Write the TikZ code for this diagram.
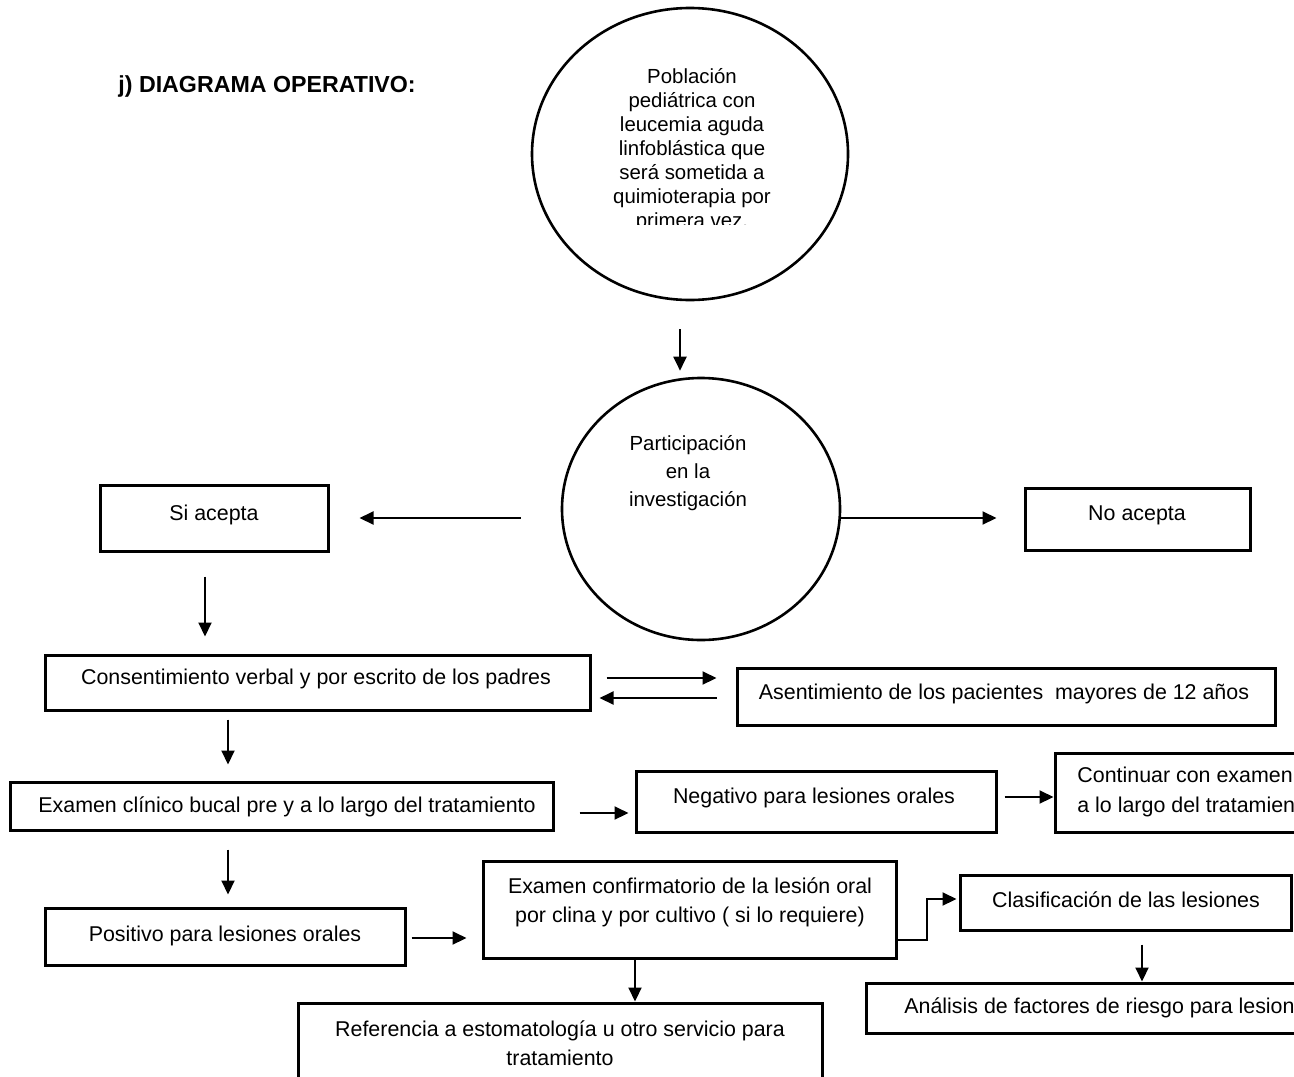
\documentclass[tikz,border=0pt]{standalone}
\usepackage{fontspec}
\setmainfont{Liberation Sans}
\usetikzlibrary{arrows.meta,shapes.geometric}
\begin{document}
\begin{tikzpicture}[x=0.5pt,y=-0.5pt,
  box/.style={draw,line width=1.5pt,rectangle,inner sep=0pt},
  oval/.style={draw,line width=1.3pt,ellipse,inner sep=0pt},
  txt/.style={font=\fontsize{10.7}{12.5}\selectfont,inner sep=0pt},
  ctxt/.style={font=\fontsize{10.2}{12}\selectfont,inner sep=0pt,align=center},
  txtw/.style={font=\fontsize{10.7}{14.5}\selectfont,inner sep=0pt,align=center},
  arr/.style={line width=1pt,-{Triangle[length=7pt,width=6.5pt]}}]
\useasboundingbox (0,0) rectangle (1294,1076);
\fill[white] (0,0) rectangle (1294,1076);
\clip (0,0) rectangle (1294,1076);

% title
\node[anchor=west,inner sep=0pt,font=\fontsize{11.6}{14}\selectfont\bfseries] (title) at (118,87) {j) DIAGRAMA OPERATIVO:};

% first circle
\node[oval,minimum width=158pt,minimum height=146pt] (c1) at (690,154) {};
\begin{scope}
\clip (530,40) rectangle (860,224);
\node[ctxt] (c1t) at (692,150) {Población\\pediátrica con\\leucemia aguda\\linfoblástica que\\será sometida a\\quimioterapia por\\primera vez.};
\end{scope}

% second circle
\node[oval,minimum width=139pt,minimum height=131pt] (c2) at (701,509) {};
\node[font=\fontsize{10.2}{14}\selectfont,inner sep=0pt,align=center] (c2t) at (688,473) {Participación\\en la\\investigación};

\draw[arr] ([shift={(-10,28)}]c1.south) -- ([shift={(-21,-6)}]c2.north);

% Si / No acepta
\node[box,minimum width=114pt,minimum height=33pt] (si) at (214,518) {};
\node[txt] (sit) at (214,515) {Si acepta};
\node[box,minimum width=112.5pt,minimum height=31pt] (no) at (1137.5,519) {};
\node[txt] (not) at (1137,515) {No acepta};
\draw[arr] ([shift={(-40,9)}]c2.west) -- ([shift={(30,0)}]si.east);
\draw[arr] ([shift={(-2,9)}]c2.east) -- ([shift={(-27,-1)}]no.west);

% consentimiento / asentimiento
\node[box,minimum width=272.5pt,minimum height=27.5pt] (cons) at (317.5,682.5) {};
\node[txt] (const) at (316,679) {Consentimiento verbal y por escrito de los padres};
\draw[arr] ([shift={(-9,24)}]si.south) -- ([shift={(-112.5,-17)}]cons.north);
\node[box,minimum width=269pt,minimum height=28.5pt] (ase) at (1006,696.5) {};
\node[txt] (aset) at (1004,694) {Asentimiento de los pacientes\ \ mayores de 12 años};
\draw[arr] ([shift={(15,-4.5)}]cons.east) -- ([shift={(-19,-18.5)}]ase.west);
\draw[arr] ([shift={(-19,1.5)}]ase.west) -- ([shift={(8,15.5)}]cons.east);

% examen clinico
\node[box,minimum width=271.5pt,minimum height=24pt] (exa) at (281.5,806) {};
\node[txt] (exat) at (287,807) {Examen clínico bucal pre y a lo largo del tratamiento};
\draw[arr] ([shift={(-89.5,8)}]cons.south) -- ([shift={(-53.5,-16)}]exa.north);

% negativo / continuar
\node[box,minimum width=180pt,minimum height=30.5pt] (neg) at (816,801.5) {};
\node[txt] (negt) at (814,798) {Negativo para lesiones orales};
\draw[arr] ([shift={(25,7)}]exa.east) -- ([shift={(-6,11.5)}]neg.west);
\node[box,minimum width=132.5pt,minimum height=39.5pt] (cont) at (1187.5,792.5) {};
\node[txt,anchor=west,align=left] (contt) at (1077,792) {Continuar con examen\\[2.4pt]a lo largo del tratamien};
\draw[arr] ([shift={(7,-4.5)}]neg.east) -- ([shift={(0,4.5)}]cont.west);

% positivo
\node[box,minimum width=180pt,minimum height=28.5pt] (pos) at (225,936.5) {};
\node[txt] (post) at (225,936) {Positivo para lesiones orales};
\draw[arr] ([shift={(-53.5,18)}]exa.south) -- ([shift={(3,-12)}]pos.north);

% confirmatorio
\node[box,minimum width=206.5pt,minimum height=48.5pt] (conf) at (689.5,909.5) {};
\node[txtw] (conft) at (690,902) {Examen confirmatorio de la lesión oral\\por clina y por cultivo ( si lo requiere)};
\draw[arr] ([shift={(5,1.5)}]pos.east) -- ([shift={(-15,28.5)}]conf.west);

% referencia
\node[box,minimum width=262pt,minimum height=48.5pt] (ref) at (560,1051.5) {};
\node[txtw] (reft) at (560,1043) {Referencia a estomatología u otro servicio para\\tratamiento};
\draw[arr] ([shift={(-54.5,0)}]conf.south) -- ([shift={(75,0)}]ref.north);

% clasificacion / analisis
\node[box,minimum width=165.5pt,minimum height=27.5pt] (cla) at (1125.5,902.5) {};
\node[txt] (clat) at (1126,900) {Clasificación de las lesiones};
\draw[arr] ([shift={(0,30.5)}]conf.east) -- ++(29,0) |- ([shift={(-2,-3.5)}]cla.west);
\node[box,minimum width=227pt,minimum height=25pt] (ana) at (1093,1008) {};
\node[txt,anchor=west] (anat) at (904,1008) {Análisis de factores de riesgo para lesion};
\draw[arr] ([shift={(16.5,13)}]cla.south) -- ([shift={(49,0)}]ana.north);
\end{tikzpicture}
\end{document}
